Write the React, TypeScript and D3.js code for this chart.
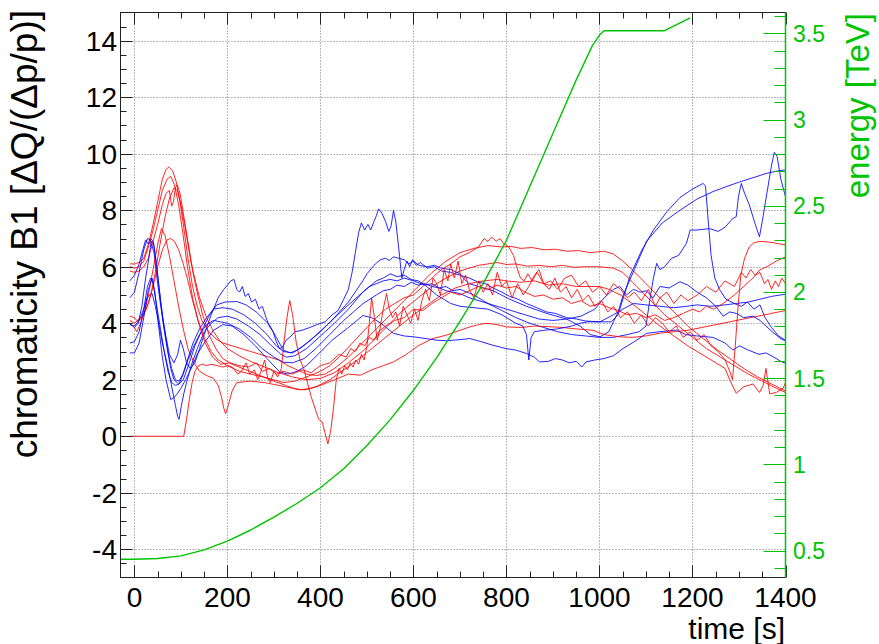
import React from "react";
import * as d3 from "d3";

type Pt = [number, number];

const WIDTH = 879;
const HEIGHT = 644;
const FONT = "'Liberation Sans', Arial, Helvetica, sans-serif";

// Axis ticks and labels
const timeMajorTicks = [0, 200, 400, 600, 800, 1000, 1200, 1400];
const chromaMajorTicks = [-4, -2, 0, 2, 4, 6, 8, 10, 12, 14];
const energyMajorTicks = [0.5, 1, 1.5, 2, 2.5, 3, 3.5];

// Beam energy during the ramp [s, TeV]
const energy: Pt[] = [
  [-30, 0.45], [0, 0.45], [50, 0.455], [100, 0.47], [150, 0.505], [200, 0.555], [250, 0.62],
  [300, 0.695], [350, 0.775], [400, 0.865], [450, 0.975], [500, 1.11], [550, 1.26], [600, 1.43],
  [650, 1.62], [700, 1.83], [750, 2.05], [800, 2.3], [850, 2.61], [900, 2.92], [950, 3.23],
  [985, 3.43], [1000, 3.49], [1010, 3.515], [1140, 3.515], [1195, 3.59],
];

// Chromaticity measurements, blue traces [s, ΔQ/(Δp/p)]
const blue1: Pt[] = [
  [-10, 5.5], [0, 5.7], [10, 6.1], [18, 6.6], [24, 6.95], [30, 6.8], [35, 7.0], [40, 6.9], [45, 6.4],
  [52, 5.4], [60, 4.3], [67, 3.6], [75, 2.9], [85, 2.6], [93, 2.9], [99, 3.4], [105, 3.1], [112, 2.6],
  [120, 2.4], [130, 2.6], [140, 3.1], [150, 3.6], [165, 4.3], [180, 4.9], [192, 5.2], [200, 5.35],
  [207, 5.5], [214, 5.55], [220, 5.2], [226, 5.1], [232, 5.3], [238, 4.95], [245, 5.05], [252, 4.75],
  [260, 4.85], [268, 4.5], [275, 4.6], [283, 4.2], [290, 3.9], [298, 3.7], [305, 3.35], [312, 3.1],
  [318, 3.15], [326, 3.4], [334, 3.5], [345, 3.7], [360, 3.75], [377, 3.85], [392, 3.95], [410, 4.05],
  [425, 4.3], [438, 4.45], [450, 4.85], [460, 5.2], [468, 5.8], [475, 6.5], [482, 7.2], [488, 7.55],
  [495, 7.3], [502, 7.5], [508, 7.3], [515, 7.6], [520, 7.8], [525, 8.05], [532, 7.9], [540, 7.6],
  [547, 7.25], [552, 7.45], [557, 8.0], [562, 7.6], [568, 6.7], [575, 5.6], [580, 5.9], [586, 6.2],
  [592, 6.0], [598, 6.25], [606, 6.05], [615, 6.15], [630, 5.95], [645, 6.0], [660, 5.85], [680, 5.8],
  [700, 5.7], [720, 5.6], [740, 5.45], [755, 5.4], [771, 5.25], [790, 5.1], [807, 4.95], [825, 4.85],
  [843, 4.7], [865, 4.55], [886, 4.4], [905, 4.35], [929, 4.2], [950, 4.15], [970, 4.08], [1000, 4.05],
  [1025, 4.05], [1040, 4.3], [1055, 5.1], [1066, 5.7], [1090, 6.55], [1116, 7.3], [1145, 7.95],
  [1173, 8.45], [1200, 8.75], [1223, 8.95], [1228, 8.85], [1234, 7.6], [1240, 6.4], [1248, 5.6],
  [1258, 5.2], [1272, 4.85], [1290, 4.7], [1305, 4.6], [1318, 4.75], [1332, 4.5], [1345, 4.65],
  [1356, 4.2], [1370, 3.85], [1385, 3.55], [1400, 3.4],
];
const blue2: Pt[] = [
  [-10, 4.9], [0, 5.1], [10, 5.8], [20, 6.6], [28, 7.0], [34, 6.95], [42, 6.5], [50, 5.4], [60, 4.2],
  [70, 3.15], [78, 2.4], [85, 2.0], [95, 1.85], [105, 2.0], [118, 2.6], [130, 3.2], [145, 3.75],
  [160, 4.25], [177, 4.65], [195, 4.75], [220, 4.77], [240, 4.65], [262, 4.4], [290, 3.95], [305, 3.5],
  [320, 3.05], [335, 2.95], [350, 3.05], [375, 3.35], [400, 3.7], [430, 4.2], [460, 4.75], [491, 5.5],
  [500, 5.75], [510, 5.95], [518, 6.1], [529, 6.25], [540, 6.3], [548, 6.22], [557, 6.35], [568, 6.3],
  [580, 6.25], [590, 6.1], [600, 6.2], [612, 6.05], [629, 6.0], [645, 6.05], [660, 5.95], [680, 5.9],
  [700, 5.75], [710, 5.55], [720, 5.4], [740, 5.3], [771, 5.15], [807, 4.85], [843, 4.6], [886, 4.35],
  [929, 4.15], [958, 3.9], [980, 3.6], [1001, 3.52], [1020, 3.7], [1040, 4.4], [1051, 5.0],
  [1075, 5.9], [1101, 6.9], [1135, 7.55], [1173, 8.0], [1210, 8.4], [1244, 8.66], [1275, 8.85],
  [1301, 9.0], [1330, 9.15], [1358, 9.3], [1380, 9.38], [1400, 9.43],
];
const blue3: Pt[] = [
  [-10, 3.95], [0, 3.9], [10, 4.1], [20, 4.5], [27, 4.9], [33, 5.0], [38, 5.05], [45, 4.6], [52, 4.0],
  [60, 3.3], [67, 2.8], [75, 2.2], [82, 1.6], [88, 1.1], [93, 0.7], [96, 0.6], [100, 1.0], [106, 1.5],
  [112, 1.9], [122, 2.5], [135, 3.1], [150, 3.7], [165, 4.0], [180, 4.2], [200, 4.25], [220, 4.15],
  [245, 3.9], [270, 3.6], [295, 3.2], [315, 2.9], [327, 2.8], [345, 2.85], [370, 3.1], [400, 3.55],
  [430, 4.0], [460, 4.5], [491, 5.1], [520, 5.5], [535, 5.6], [550, 5.75], [565, 5.65], [580, 5.7],
  [595, 5.55], [610, 5.5], [625, 5.35], [640, 5.4], [655, 5.25], [670, 5.3], [685, 5.15], [700, 5.2],
  [730, 5.0], [760, 4.7], [790, 4.45], [820, 4.2], [850, 4.0], [880, 3.85], [910, 3.7], [940, 3.6],
  [970, 3.55], [1000, 3.5], [1030, 3.5], [1060, 3.6], [1085, 3.7], [1100, 3.9], [1108, 4.8],
  [1116, 5.6], [1123, 6.12], [1130, 5.9], [1140, 6.0], [1155, 6.3], [1170, 6.4], [1187, 6.83],
  [1195, 7.3], [1210, 7.3], [1237, 7.35], [1255, 7.25], [1270, 7.4], [1286, 7.7], [1294, 7.77],
  [1299, 8.5], [1305, 8.95], [1312, 8.6], [1322, 8.2], [1335, 7.5], [1344, 7.06], [1350, 7.6],
  [1360, 8.6], [1370, 9.6], [1376, 10.05], [1382, 9.9], [1390, 9.1], [1400, 8.48],
];
const blue4: Pt[] = [
  [-10, 3.3], [0, 3.35], [10, 3.7], [20, 4.5], [28, 5.3], [35, 5.6], [40, 5.4], [48, 4.6], [56, 3.8],
  [64, 3.0], [72, 2.3], [80, 1.9], [88, 1.8], [96, 1.85], [105, 2.2], [115, 2.7], [128, 3.2],
  [140, 3.6], [155, 3.95], [170, 4.1], [185, 4.05], [200, 4.0], [225, 3.8], [250, 3.5], [275, 3.1],
  [300, 2.8], [320, 2.62], [340, 2.6], [365, 2.75], [390, 3.1], [420, 3.6], [450, 4.1], [491, 4.69],
  [520, 5.0], [535, 5.15], [550, 5.2], [565, 5.35], [580, 5.3], [595, 5.45], [610, 5.35], [625, 5.4],
  [640, 5.3], [655, 5.25], [670, 5.15], [685, 5.1], [700, 5.05], [720, 4.9], [750, 4.75], [780, 4.6],
  [810, 4.45], [840, 4.3], [870, 4.15], [900, 4.1], [930, 4.15], [960, 4.25], [990, 4.5], [1010, 4.9],
  [1030, 5.2], [1044, 5.3], [1058, 5.0], [1073, 5.2], [1088, 5.1], [1101, 5.15], [1115, 4.9],
  [1130, 5.3], [1150, 5.25], [1173, 5.47], [1190, 5.35], [1210, 5.1], [1230, 4.9], [1250, 4.6],
  [1266, 4.25], [1280, 4.4], [1294, 4.35], [1310, 4.2], [1330, 4.25], [1345, 4.1], [1358, 3.9],
  [1375, 3.65], [1390, 3.45], [1400, 3.38],
];
const blue5: Pt[] = [
  [-10, 2.95], [0, 2.95], [10, 3.3], [20, 4.2], [30, 5.2], [38, 5.6], [44, 5.1], [52, 3.9], [60, 2.8],
  [68, 2.0], [75, 1.5], [78, 1.3], [84, 1.35], [92, 1.5], [100, 1.7], [110, 2.0], [122, 2.4],
  [135, 2.9], [150, 3.3], [170, 3.75], [190, 3.95], [210, 3.9], [235, 3.6], [260, 3.2], [285, 2.75],
  [305, 2.4], [313, 2.27], [330, 2.2], [350, 2.3], [370, 2.5], [395, 2.9], [425, 3.4], [460, 3.85],
  [491, 4.27], [510, 4.2], [530, 4.0], [557, 3.64], [580, 3.55], [600, 3.52], [630, 3.45], [650, 3.4],
  [671, 3.38], [700, 3.42], [721, 3.46], [745, 3.35], [771, 3.22], [800, 3.1], [820, 3.05],
  [843, 2.93], [860, 2.8], [871, 2.63], [890, 2.65], [905, 2.75], [920, 2.7], [935, 2.6], [950, 2.65],
  [962, 2.45], [971, 2.63], [990, 2.7], [1010, 2.75], [1030, 2.85], [1050, 3.1], [1075, 3.35],
  [1101, 3.64], [1130, 3.7], [1166, 3.76], [1185, 3.6], [1210, 3.55], [1244, 3.5], [1270, 3.3],
  [1287, 3.05], [1301, 3.2], [1320, 3.05], [1343, 2.9], [1358, 2.95], [1375, 2.8], [1390, 2.65],
  [1400, 2.58],
];
const blue6: Pt[] = [
  [-10, 4.0], [0, 3.85], [8, 4.0], [16, 4.6], [24, 5.6], [30, 6.2], [36, 6.9], [41, 6.85], [48, 6.0],
  [56, 4.8], [64, 3.8], [72, 3.0], [80, 2.4], [88, 2.0], [96, 1.95], [104, 2.2], [114, 2.7], [126, 3.3],
  [140, 3.8], [155, 4.2], [170, 4.5], [190, 4.55], [210, 4.5], [235, 4.3], [260, 4.0], [285, 3.6],
  [305, 3.2], [320, 3.0], [340, 2.95], [360, 3.15], [385, 3.5], [415, 3.95], [450, 4.5], [491, 5.1],
  [505, 5.3], [520, 5.4], [535, 5.5], [550, 5.55], [565, 5.5], [580, 5.6], [600, 5.5], [625, 5.35],
  [650, 5.0], [665, 4.85], [680, 4.7], [700, 4.6], [730, 4.55], [760, 4.5], [790, 4.3], [820, 4.0],
  [835, 3.9], [843, 3.6], [848, 2.7], [853, 3.5], [860, 3.7], [880, 3.75], [910, 3.8], [940, 3.9],
  [958, 4.0], [975, 4.05], [1001, 4.05], [1030, 4.3], [1050, 4.5], [1073, 4.7], [1100, 4.65],
  [1130, 4.6], [1160, 4.55], [1187, 4.6], [1210, 4.65], [1240, 4.6], [1270, 4.65], [1294, 4.7],
  [1320, 4.75], [1345, 4.85], [1370, 4.95], [1400, 5.03],
];

// Chromaticity measurements, red traces [s, ΔQ/(Δp/p)]
const red1: Pt[] = [
  [-10, 6.1], [0, 6.1], [10, 6.15], [20, 6.3], [30, 6.8], [40, 7.5], [50, 8.3], [60, 9.1], [68, 9.45],
  [74, 9.53], [82, 9.4], [90, 9.0], [98, 8.3], [106, 7.4], [115, 6.3], [125, 5.3], [135, 4.6],
  [145, 4.1], [160, 3.7], [175, 3.45], [190, 3.3], [210, 3.2], [230, 3.1], [250, 3.0], [270, 2.9],
  [290, 2.8], [310, 2.7], [330, 2.5], [350, 2.35], [370, 2.2], [390, 2.15], [410, 2.2], [430, 2.4],
  [460, 2.8], [490, 3.3], [520, 3.8], [550, 4.3], [580, 4.8], [610, 5.3], [640, 5.8], [670, 6.2],
  [700, 6.5], [730, 6.65], [760, 6.75], [790, 6.7], [810, 6.72], [830, 6.65], [855, 6.68], [880, 6.6],
  [905, 6.62], [930, 6.55], [955, 6.57], [980, 6.5], [1010, 6.55], [1030, 6.45], [1050, 6.2],
  [1070, 5.9], [1100, 5.4], [1130, 4.9], [1160, 4.4], [1190, 3.9], [1220, 3.5], [1250, 3.1],
  [1280, 2.75], [1310, 2.4], [1340, 2.1], [1370, 1.85], [1400, 1.6],
];
const red2: Pt[] = [
  [-10, 5.85], [0, 5.8], [10, 5.85], [20, 6.0], [30, 6.3], [40, 6.9], [50, 7.5], [60, 8.2], [68, 8.6],
  [75, 8.7], [80, 8.15], [84, 8.3], [88, 8.8], [92, 8.9], [98, 8.6], [105, 7.9], [115, 6.9], [125, 5.9],
  [140, 4.9], [155, 4.2], [170, 3.7], [185, 3.35], [200, 3.1], [225, 2.85], [250, 2.65], [280, 2.45],
  [310, 2.25], [340, 2.1], [370, 2.0], [400, 2.05], [430, 2.25], [460, 2.6], [490, 3.0], [520, 3.5],
  [550, 4.0], [580, 4.5], [610, 4.9], [640, 5.3], [670, 5.6], [700, 5.85], [740, 6.05], [760, 6.1],
  [780, 6.15], [800, 6.08], [820, 6.1], [845, 6.02], [870, 6.05], [895, 6.0], [920, 6.05], [945, 5.98],
  [970, 6.0], [1000, 6.0], [1030, 5.95], [1050, 5.8], [1080, 5.3], [1110, 4.8], [1140, 4.3],
  [1170, 3.9], [1200, 3.5], [1230, 3.1], [1260, 2.8], [1290, 2.5], [1320, 2.2], [1350, 1.95],
  [1380, 1.7], [1400, 1.55],
];
const red3: Pt[] = [
  [-10, 4.25], [0, 4.2], [8, 4.05], [15, 4.2], [25, 4.5], [35, 5.0], [45, 5.8], [55, 6.8], [65, 7.7],
  [75, 8.4], [85, 8.8], [92, 8.7], [100, 8.2], [110, 7.3], [120, 6.3], [132, 5.3], [145, 4.4],
  [160, 3.6], [175, 3.1], [190, 2.75], [210, 2.55], [240, 2.35], [270, 2.15], [300, 1.95], [325, 1.8],
  [350, 1.65], [370, 1.65], [390, 1.75], [420, 2.0], [450, 2.35], [480, 2.7], [510, 3.1], [540, 3.5],
  [570, 3.9], [600, 4.3], [630, 4.65], [660, 5.0], [690, 5.25], [720, 5.4], [750, 5.5], [780, 5.55],
  [800, 5.5], [830, 5.45], [860, 5.5], [890, 5.35], [920, 5.4], [950, 5.3], [980, 5.3], [1000, 5.3],
  [1020, 5.2], [1045, 5.0], [1070, 4.7], [1100, 4.3], [1130, 3.9], [1160, 3.55], [1190, 3.2],
  [1220, 2.9], [1250, 2.6], [1270, 2.4], [1280, 2.0], [1294, 1.52], [1310, 1.75], [1330, 1.85],
  [1344, 1.55], [1352, 1.8], [1358, 2.4], [1366, 1.5], [1380, 1.55], [1395, 1.7], [1400, 1.9],
];
const red4: Pt[] = [
  [-10, 4.0], [0, 3.85], [5, 3.7], [12, 3.95], [20, 4.3], [30, 5.0], [40, 5.9], [50, 6.8], [58, 7.35],
  [66, 7.1], [75, 6.4], [85, 5.5], [95, 4.6], [105, 3.8], [115, 3.1], [128, 2.6], [140, 2.3],
  [155, 2.15], [170, 2.05], [180, 1.8], [187, 1.4], [192, 1.0], [196, 0.8], [202, 1.1], [210, 1.6],
  [220, 1.9], [250, 1.95], [280, 1.9], [310, 1.8], [340, 1.7], [360, 1.65], [380, 1.7], [400, 1.8],
  [430, 2.0], [460, 2.2], [486, 2.16], [510, 2.35], [535, 2.5], [557, 2.63], [585, 2.9], [610, 3.2],
  [640, 3.45], [671, 3.58], [700, 3.75], [721, 3.87], [740, 3.95], [757, 4.0], [780, 3.95], [800, 3.87],
  [830, 3.85], [860, 3.9], [890, 3.88], [920, 3.85], [950, 3.8], [986, 3.75], [1010, 3.6], [1043, 3.52],
  [1070, 3.5], [1100, 3.55], [1130, 3.65], [1160, 3.7], [1190, 3.75], [1220, 3.85], [1250, 3.95],
  [1280, 4.05], [1310, 4.15], [1340, 4.25], [1370, 4.35], [1400, 4.45],
];
const red5: Pt[] = [
  [-10, 4.1], [0, 4.0], [10, 4.15], [20, 4.3], [30, 4.7], [40, 5.3], [50, 6.0], [60, 6.6], [70, 6.95],
  [78, 7.0], [86, 6.9], [95, 6.6], [105, 6.1], [115, 5.5], [125, 4.8], [137, 4.1], [150, 3.5],
  [165, 3.0], [180, 2.7], [200, 2.5], [225, 2.3], [250, 2.2], [275, 2.1], [300, 2.0], [320, 1.9],
  [345, 1.95], [370, 2.1], [400, 2.3], [420, 2.5], [440, 2.8], [460, 3.15], [480, 3.5], [500, 3.85],
  [520, 4.2], [540, 4.5], [560, 4.7], [580, 4.9], [600, 5.0], [620, 5.3], [640, 5.6], [660, 5.9],
  [680, 6.1], [700, 6.35], [720, 6.5], [740, 6.7], [752, 7.0], [760, 6.9], [768, 7.05], [778, 6.9],
  [786, 7.0], [795, 6.8], [805, 6.7], [815, 6.4], [822, 6.0], [830, 5.6], [838, 5.5], [846, 5.75],
  [855, 5.5], [866, 5.8], [880, 5.4], [895, 5.5], [910, 5.2], [925, 5.6], [940, 5.7], [955, 5.3],
  [970, 5.5], [985, 5.1], [1000, 5.3], [1015, 5.0], [1030, 5.4], [1045, 5.2], [1060, 4.9], [1075, 5.1],
  [1090, 4.8], [1105, 5.2], [1120, 4.6], [1130, 4.9], [1145, 5.1], [1160, 4.7], [1175, 5.0],
  [1190, 4.8], [1210, 5.0], [1230, 5.3], [1250, 5.1], [1270, 5.5], [1290, 5.3], [1305, 5.8],
  [1315, 5.6], [1325, 5.9], [1335, 5.7], [1345, 5.8], [1355, 5.4], [1362, 5.55], [1370, 5.2],
  [1378, 5.5], [1385, 5.3], [1392, 5.6], [1400, 5.4],
];
const red6: Pt[] = [
  [-10, 0], [20, 0], [60, 0], [106, 0], [112, 0.6], [118, 1.3], [124, 1.9], [130, 2.3], [138, 2.5],
  [146, 2.55], [155, 2.5], [165, 2.55], [178, 2.5], [190, 2.45], [200, 2.5], [210, 2.45], [222, 2.2],
  [230, 2.3], [240, 2.6], [248, 2.2], [258, 2.35], [265, 2.0], [272, 2.3], [280, 2.7], [286, 2.1],
  [292, 1.9], [300, 2.3], [308, 2.1], [316, 2.4], [322, 3.4], [328, 4.2], [334, 4.8], [340, 4.3],
  [348, 3.3], [356, 2.7], [364, 2.4], [372, 1.9], [380, 1.4], [388, 1.0], [396, 0.6], [404, 0.5],
  [410, 0.1], [416, -0.27], [422, 0.2], [428, 1.0], [434, 2.0], [440, 2.4], [446, 2.2], [452, 2.5],
  [458, 2.35], [464, 2.6], [470, 2.45], [476, 2.7], [482, 2.55], [488, 2.9], [494, 2.7], [500, 3.2],
  [505, 4.0], [510, 4.9], [516, 4.2], [522, 3.4], [528, 3.8], [535, 4.5], [542, 5.05], [548, 4.5],
  [555, 4.2], [562, 4.4], [570, 3.9], [578, 4.6], [586, 4.3], [594, 4.0], [602, 4.5], [610, 4.1],
  [618, 4.8], [626, 5.2], [634, 4.8], [642, 5.6], [650, 5.4], [658, 5.0], [666, 5.9], [674, 5.5],
  [680, 6.1], [688, 5.6], [696, 6.2], [704, 5.4], [712, 5.7], [720, 5.2], [730, 4.9], [740, 5.5],
  [750, 5.1], [760, 5.4], [770, 5.0], [780, 5.8], [790, 5.3], [800, 5.5], [812, 4.9], [824, 5.4],
  [836, 5.0], [848, 5.3], [860, 5.7], [870, 5.9], [880, 5.4], [892, 5.2], [904, 5.6], [916, 5.1],
  [928, 5.3], [940, 4.9], [952, 5.2], [964, 4.8], [976, 5.0], [990, 4.6], [1004, 4.8], [1018, 4.4],
  [1030, 4.6], [1045, 4.2], [1060, 4.4], [1075, 4.0], [1090, 4.3], [1105, 3.9], [1120, 4.2],
  [1135, 4.0], [1150, 3.7], [1165, 3.9], [1180, 3.5], [1195, 3.7], [1210, 3.4], [1225, 3.6],
  [1240, 3.2], [1255, 3.0], [1270, 2.7], [1280, 2.3], [1286, 2.0], [1292, 3.2], [1298, 4.6],
  [1304, 5.7], [1312, 6.3], [1322, 6.7], [1332, 6.85], [1345, 6.9], [1360, 6.88], [1375, 6.85],
  [1390, 6.8], [1400, 6.77],
];
const red7: Pt[] = [
  [-10, 6.0], [0, 5.95], [10, 6.0], [20, 6.2], [30, 6.7], [40, 7.3], [50, 8.0], [60, 8.7], [70, 9.1],
  [78, 9.2], [86, 8.9], [95, 8.2], [104, 7.2], [114, 6.0], [125, 4.9], [138, 4.0], [152, 3.3],
  [168, 2.8], [185, 2.55], [205, 2.6], [225, 2.5], [245, 2.45], [262, 2.6], [275, 2.3], [290, 2.4],
  [305, 2.2], [320, 2.3], [340, 2.2], [360, 2.35], [380, 2.25], [400, 2.5], [420, 2.6], [440, 2.9],
  [455, 2.8], [465, 3.1], [475, 3.0], [485, 3.3], [495, 3.2], [505, 3.5], [515, 3.4], [525, 3.7],
  [540, 3.9], [560, 4.1], [580, 4.2], [600, 4.5], [620, 4.45], [640, 4.7], [660, 4.9], [680, 5.1],
  [700, 5.0], [720, 5.15], [740, 5.3], [760, 5.2], [780, 5.35], [800, 5.25], [820, 5.3], [840, 5.1],
  [860, 4.95], [880, 5.0], [900, 4.85], [920, 4.9], [940, 4.7], [960, 4.8], [980, 4.6], [1000, 4.7],
  [1020, 4.55], [1040, 4.45], [1060, 4.3], [1080, 4.35], [1100, 4.2], [1120, 4.3], [1140, 4.1],
  [1160, 4.2], [1180, 4.35], [1200, 4.5], [1215, 4.4], [1230, 4.6], [1245, 4.5], [1266, 4.7],
  [1290, 5.0], [1310, 5.3], [1330, 5.6], [1344, 5.88], [1360, 6.0], [1380, 6.2], [1400, 6.35],
];

const redSeries = [red1, red2, red3, red4, red5, red6, red7];
const blueSeries = [blue1, blue2, blue3, blue4, blue5, blue6];

const frame = { left: 120.5, right: 785.5, top: 12.5, bottom: 577.5 };
const GREEN = "#00c400";
const AXIS = "#222";

export default function App() {
  const x = d3.scaleLinear().domain([-30, 1400]).range([frame.left, frame.right]);
  const y = d3.scaleLinear().domain([-5, 15]).range([frame.bottom, frame.top]);
  const yE = d3.scaleLinear().domain([0.5, 3.5]).range([550.7, 33.3]);

  const chromaLine = d3
    .line<Pt>()
    .x((d) => x(d[0]))
    .y((d) => y(d[1]));
  const energyLine = d3
    .line<Pt>()
    .x((d) => x(d[0]))
    .y((d) => yE(d[1]));

  const timeMinor = d3.range(0, 1401, 50).filter((t) => t % 200 !== 0);
  const chromaMinor = d3.range(-4.5, 14.6, 0.5).filter((v) => Math.abs(v % 2) > 1e-6);
  const eMin = yE.invert(frame.bottom);
  const eMax = yE.invert(frame.top);
  const energyMinor = d3
    .range(0.4, 3.61, 0.1)
    .map((v) => Math.round(v * 10) / 10)
    .filter((v) => v >= eMin && v <= eMax && Math.abs((v * 2) % 1) > 1e-6);

  // interleave the traces so neither colour sits fully on top
  const traces: { pts: Pt[]; color: string }[] = [];
  for (let i = 0; i < Math.max(redSeries.length, blueSeries.length); i++) {
    if (redSeries[i]) traces.push({ pts: redSeries[i], color: "#ff0000" });
    if (blueSeries[i]) traces.push({ pts: blueSeries[i], color: "#0000ff" });
  }

  return (
    <svg
      width={WIDTH}
      height={HEIGHT}
      style={{ position: "absolute", left: 0, top: 0, background: "#fff" }}
      fontFamily={FONT}
    >
      <defs>
        <clipPath id="plotArea">
          <rect
            x={frame.left}
            y={frame.top}
            width={frame.right - frame.left}
            height={frame.bottom - frame.top}
          />
        </clipPath>
      </defs>
      <rect width={WIDTH} height={HEIGHT} fill="#fff" />

      {/* grid */}
      <g stroke="#777" strokeWidth={1} strokeDasharray="1 2">
        {timeMajorTicks
          .filter((t) => x(t) < frame.right - 1)
          .map((t) => (
            <line key={`gx${t}`} x1={Math.round(x(t)) + 0.5} x2={Math.round(x(t)) + 0.5} y1={frame.top} y2={frame.bottom} />
          ))}
        {chromaMajorTicks.map((v) => (
          <line key={`gy${v}`} x1={frame.left} x2={frame.right} y1={Math.round(y(v)) + 0.5} y2={Math.round(y(v)) + 0.5} />
        ))}
      </g>

      {/* measurement traces */}
      <g clipPath="url(#plotArea)" fill="none" strokeWidth={1} strokeLinejoin="round">
        {traces.map((tr, i) => (
          <path key={i} d={chromaLine(tr.pts) || ""} stroke={tr.color} strokeOpacity={0.85} />
        ))}
        <path d={energyLine(energy) || ""} stroke={GREEN} strokeWidth={1.4} />
      </g>

      {/* frame */}
      <rect
        x={frame.left}
        y={frame.top}
        width={frame.right - frame.left}
        height={frame.bottom - frame.top}
        fill="none"
        stroke={AXIS}
        strokeWidth={1}
      />

      {/* time axis ticks: bottom and top; chromaticity ticks on the left */}
      <g stroke={AXIS} strokeWidth={1}>
        {timeMajorTicks.map((t) => {
          const px = Math.round(x(t)) + 0.5;
          return (
            <g key={`tx${t}`}>
              <line x1={px} x2={px} y1={frame.bottom} y2={frame.bottom - 12} />
              <line x1={px} x2={px} y1={frame.top} y2={frame.top + 12} />
            </g>
          );
        })}
        {timeMinor.map((t) => {
          const px = Math.round(x(t)) + 0.5;
          return (
            <g key={`tm${t}`}>
              <line x1={px} x2={px} y1={frame.bottom} y2={frame.bottom - 6} />
              <line x1={px} x2={px} y1={frame.top} y2={frame.top + 6} />
            </g>
          );
        })}
        {chromaMajorTicks.map((v) => {
          const py = Math.round(y(v)) + 0.5;
          return <line key={`ty${v}`} x1={frame.left} x2={frame.left + 12} y1={py} y2={py} />;
        })}
        {chromaMinor.map((v) => {
          const py = Math.round(y(v)) + 0.5;
          return <line key={`tym${v}`} x1={frame.left} x2={frame.left + 6} y1={py} y2={py} />;
        })}
      </g>

      {/* energy axis on the right */}
      <g stroke={GREEN} strokeWidth={1}>
        <line x1={frame.right} x2={frame.right} y1={frame.top} y2={frame.bottom} strokeWidth={1.5} />
        {energyMajorTicks.map((v) => {
          const py = Math.round(yE(v)) + 0.5;
          return <line key={`ey${v}`} x1={frame.right} x2={frame.right - 22} y1={py} y2={py} />;
        })}
        {energyMinor.map((v) => {
          const py = Math.round(yE(v)) + 0.5;
          return <line key={`eym${v}`} x1={frame.right} x2={frame.right - 11} y1={py} y2={py} />;
        })}
      </g>

      {/* tick labels */}
      <g fontSize={28} fill="#000">
        {timeMajorTicks.map((t) => (
          <text key={`lx${t}`} x={x(t)} y={607} textAnchor="middle">
            {t}
          </text>
        ))}
        {chromaMajorTicks.map((v) => (
          <text key={`ly${v}`} x={117} y={y(v)} dy="0.36em" textAnchor="end">
            {v}
          </text>
        ))}
      </g>
      <g fontSize={23} fill={GREEN}>
        {energyMajorTicks.map((v) => (
          <text key={`le${v}`} x={793} y={yE(v)} dy="0.36em" textAnchor="start">
            {v}
          </text>
        ))}
      </g>

      {/* axis titles */}
      <text x={785} y={639} fontSize={30} textAnchor="end" fill="#000">
        time [s]
      </text>
      <text transform="translate(37,10) rotate(-90)" fontSize={37} textAnchor="end" fill="#000">
        chromaticity B1 [ΔQ/(Δp/p)]
      </text>
      <text transform="translate(869,13) rotate(-90)" fontSize={33} textAnchor="end" fill={GREEN}>
        energy [TeV]
      </text>
    </svg>
  );
}
